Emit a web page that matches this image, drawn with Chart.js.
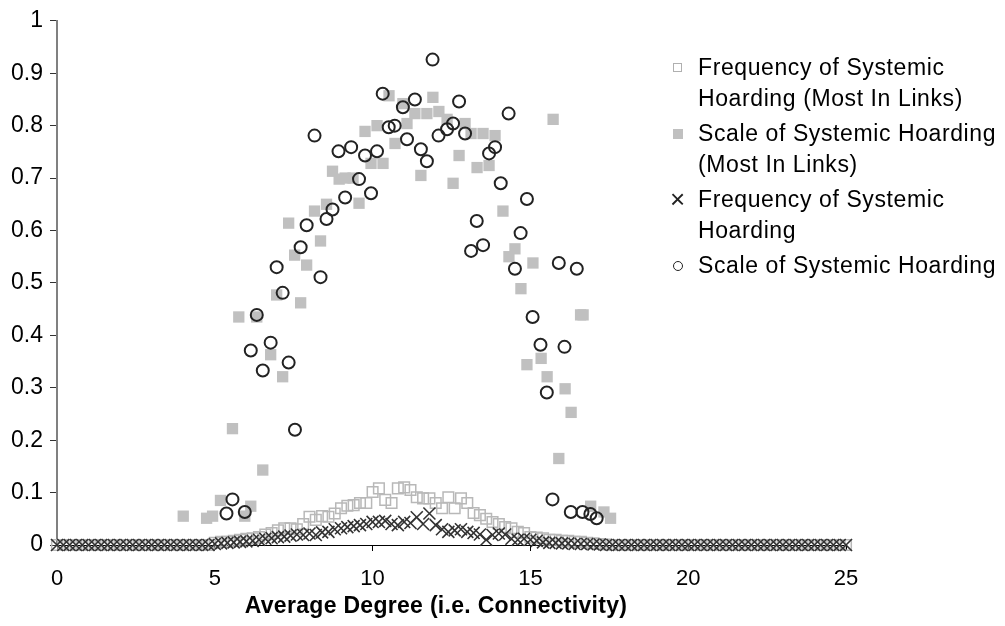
<!DOCTYPE html>
<html>
<head>
<meta charset="utf-8">
<script src="https://cdn.jsdelivr.net/npm/chart.js@4/dist/chart.umd.min.js"></script>
<style>
  html, body { margin: 0; padding: 0; background: #fff; }
  #wrap { position: relative; width: 1005px; height: 626px; font-family: "Liberation Sans", Arial, sans-serif; }
  #chart { position: absolute; left: 0; top: 0; }
  .xtitle { position: absolute; left: 436px; top: 592px; transform: translateX(-50%); font-weight: bold; font-size: 23px; letter-spacing: 0.3px; white-space: nowrap; }
  .legend { position: absolute; left: 668px; top: 52px; font-size: 23px; line-height: 31px; letter-spacing: 0.6px; color: #000; }
  .item { position: relative; padding-left: 30px; margin-bottom: 4px; white-space: nowrap; }
  .mk { position: absolute; left: 5px; top: 11px; box-sizing: border-box; }
  .mk.open { width: 9px; height: 9px; border: 1.5px solid #b0b0b0; }
  .mk.fill { width: 10px; height: 10px; background: #c0c0c0; }
  .mk.circ { width: 10px; height: 10px; border: 1.5px solid #222; border-radius: 50%; }
  .mk.cross { left: 2px; top: 3px; font-size: 26px; line-height: 24px; color: #222; }
</style>
</head>
<body>
<div id="wrap">
  <canvas id="chart" width="1005" height="626"></canvas>
  <div class="xtitle">Average Degree (i.e. Connectivity)</div>
  <div class="legend">
    <div class="item"><span class="mk open"></span>Frequency of Systemic<br>Hoarding (Most In Links)</div>
    <div class="item"><span class="mk fill"></span>Scale of Systemic Hoarding<br>(Most In Links)</div>
    <div class="item"><span class="mk cross">&#215;</span>Frequency of Systemic<br>Hoarding</div>
    <div class="item"><span class="mk circ"></span>Scale of Systemic Hoarding</div>
  </div>
</div>
<script>
// sampled average degrees for the frequency series
const degreeGrid = [
  0, 0.2, 0.4, 0.6, 0.8, 1, 1.2, 1.4, 1.6, 1.8, 2, 2.2, 2.4, 2.6, 2.8, 3, 3.2, 3.4, 3.6, 3.8,
  4, 4.2, 4.4, 4.6, 4.8, 5, 5.2, 5.4, 5.6, 5.8, 6, 6.2, 6.4, 6.6, 6.8, 7, 7.2, 7.4, 7.6, 7.8,
  8, 8.2, 8.4, 8.6, 8.8, 9, 9.2, 9.4, 9.6, 9.8, 10, 10.2, 10.4, 10.6, 10.8, 11, 11.2, 11.4, 11.6, 11.8,
  12, 12.2, 12.4, 12.6, 12.8, 13, 13.2, 13.4, 13.6, 13.8, 14, 14.2, 14.4, 14.6, 14.8, 15, 15.2, 15.4, 15.6, 15.8,
  16, 16.2, 16.4, 16.6, 16.8, 17, 17.2, 17.4, 17.6, 17.8, 18, 18.2, 18.4, 18.6, 18.8, 19, 19.2, 19.4, 19.6, 19.8,
  20, 20.2, 20.4, 20.6, 20.8, 21, 21.2, 21.4, 21.6, 21.8, 22, 22.2, 22.4, 22.6, 22.8, 23, 23.2, 23.4, 23.6, 23.8,
  24, 24.2, 24.4, 24.6, 24.8, 25
];

const freqMostIn = [
  0, 0, 0, 0, 0, 0, 0, 0, 0, 0, 0, 0, 0, 0, 0, 0, 0, 0, 0, 0,
  0, 0, 0, 0, 0, 0.004, 0.006, 0.006, 0.008, 0.010, 0.012, 0.013, 0.015, 0.020, 0.023, 0.028, 0.032, 0.032, 0.030, 0.040,
  0.054, 0.048, 0.055, 0.054, 0.060, 0.070, 0.075, 0.076, 0.080, 0.080, 0.101, 0.108, 0.086, 0.080, 0.108, 0.110, 0.105, 0.091, 0.089, 0.089,
  0.080, 0.070, 0.091, 0.070, 0.089, 0.080, 0.061, 0.057, 0.050, 0.044, 0.040, 0.034, 0.032, 0.025, 0.023, 0.015, 0.014, 0.013, 0.010, 0.010,
  0.008, 0.008, 0.006, 0.006, 0.004, 0.003, 0.002, 0.001, 0, 0, 0, 0, 0, 0, 0, 0, 0, 0, 0, 0,
  0, 0, 0, 0, 0, 0, 0, 0, 0, 0, 0, 0, 0, 0, 0, 0, 0, 0, 0, 0,
  0, 0, 0, 0, 0, 0
];

const freqAll = [
  0, 0, 0, 0, 0, 0, 0, 0, 0, 0, 0, 0, 0, 0, 0, 0, 0, 0, 0, 0,
  0, 0, 0, 0, 0, 0.002, 0.003, 0.004, 0.005, 0.006, 0.007, 0.008, 0.010, 0.012, 0.013, 0.015, 0.016, 0.018, 0.020, 0.019,
  0.022, 0.019, 0.024, 0.025, 0.030, 0.032, 0.034, 0.036, 0.038, 0.040, 0.044, 0.044, 0.046, 0.040, 0.038, 0.044, 0.042, 0.053, 0.040, 0.060,
  0.038, 0.030, 0.025, 0.028, 0.030, 0.025, 0.023, 0.020, 0.010, 0.019, 0.022, 0.020, 0.012, 0.010, 0.012, 0.010, 0.008, 0.005, 0.004, 0.004,
  0.003, 0.003, 0.002, 0.002, 0.002, 0.001, 0.001, 0, 0, 0, 0, 0, 0, 0, 0, 0, 0, 0, 0, 0,
  0, 0, 0, 0, 0, 0, 0, 0, 0, 0, 0, 0, 0, 0, 0, 0, 0, 0, 0, 0,
  0, 0, 0, 0, 0, 0
];

// scale of hoarding, most-in-links (only where hoarding happened)
const scaleMostInX = [
  4.0, 4.74, 4.93, 5.18, 5.56, 5.76, 5.95, 6.14, 6.33, 6.52, 6.77, 6.96, 7.15, 7.34, 7.53, 7.72, 7.91, 8.16, 8.35, 8.54,
  8.73, 8.94, 9.13, 9.38, 9.57, 9.76, 9.95, 10.14, 10.33, 10.52, 10.71, 10.96, 11.09, 11.34, 11.53, 11.72, 11.91, 12.1, 12.36, 12.55,
  12.74, 12.93, 13.12, 13.31, 13.5, 13.69, 13.88, 14.13, 14.32, 14.51, 14.7, 14.89, 15.08, 15.34, 15.53, 15.72, 15.9, 16.1, 16.29, 16.59,
  16.67, 16.91, 17.33, 17.54
];
const scaleMostInY = [
  0.055, 0.051, 0.055, 0.085, 0.222, 0.435, 0.055, 0.074, 0.435, 0.143, 0.363, 0.477, 0.321, 0.614, 0.553, 0.462, 0.534, 0.637, 0.580, 0.650,
  0.713, 0.698, 0.700, 0.700, 0.652, 0.789, 0.728, 0.800, 0.728, 0.857, 0.766, 0.842, 0.804, 0.823, 0.705, 0.823, 0.854, 0.827, 0.812, 0.690,
  0.743, 0.804, 0.785, 0.720, 0.785, 0.724, 0.781, 0.637, 0.550, 0.565, 0.489, 0.344, 0.538, 0.356, 0.321, 0.812, 0.165, 0.298, 0.253, 0.439,
  0.439, 0.074, 0.063, 0.051
];

// scale of hoarding, all banks
const scaleAllX = [
  5.37, 5.56, 5.95, 6.14, 6.33, 6.52, 6.77, 6.96, 7.15, 7.34, 7.54, 7.72, 7.91, 8.16, 8.35, 8.54, 8.73, 8.92, 9.13, 9.32,
  9.57, 9.76, 9.95, 10.14, 10.32, 10.51, 10.7, 10.96, 11.09, 11.34, 11.53, 11.72, 11.9, 12.09, 12.36, 12.55, 12.74, 12.93, 13.12, 13.3,
  13.5, 13.69, 13.88, 14.06, 14.31, 14.51, 14.69, 14.89, 15.07, 15.32, 15.52, 15.7, 15.9, 16.08, 16.28, 16.47, 16.65, 16.9, 17.1
];
const scaleAllY = [
  0.060, 0.087, 0.063, 0.371, 0.439, 0.333, 0.386, 0.530, 0.481, 0.348, 0.220, 0.568, 0.610, 0.781, 0.511, 0.622, 0.640, 0.751, 0.663, 0.759,
  0.698, 0.743, 0.671, 0.751, 0.861, 0.797, 0.800, 0.835, 0.774, 0.850, 0.755, 0.732, 0.926, 0.781, 0.793, 0.804, 0.846, 0.785, 0.561, 0.618,
  0.572, 0.747, 0.759, 0.690, 0.823, 0.527, 0.595, 0.660, 0.435, 0.382, 0.291, 0.087, 0.538, 0.378, 0.063, 0.527, 0.063, 0.059, 0.051
];

const xTicks = [0, 5, 10, 15, 20, 25];

const toPts = (xs, ys) => xs.map((x, i) => ({ x: x, y: ys[i] }));

const ctx = document.getElementById('chart').getContext('2d');
new Chart(ctx, {
  type: 'scatter',
  data: {
    datasets: [
      {
        label: 'Scale of Systemic Hoarding',
        data: toPts(scaleAllX, scaleAllY),
        pointStyle: 'circle', pointRadius: 6, borderWidth: 2,
        borderColor: '#222', backgroundColor: 'rgba(0,0,0,0)',
        order: 0, clip: false
      },
      {
        label: 'Frequency of Systemic Hoarding',
        data: toPts(degreeGrid, freqAll),
        pointStyle: 'crossRot', pointRadius: 8.5, borderWidth: 1.6,
        borderColor: '#333', backgroundColor: '#333',
        order: 1, clip: false
      },
      {
        label: 'Scale of Systemic Hoarding (Most In Links)',
        data: toPts(scaleMostInX, scaleMostInY),
        pointStyle: 'rect', pointRadius: 8, borderWidth: 0,
        borderColor: '#c0c0c0', backgroundColor: '#c0c0c0',
        order: 2, clip: false
      },
      {
        label: 'Frequency of Systemic Hoarding (Most In Links)',
        data: toPts(degreeGrid, freqMostIn),
        pointStyle: 'rect', pointRadius: 7.5, borderWidth: 1.5,
        borderColor: '#b8b8b8', backgroundColor: 'rgba(255,255,255,0)',
        order: 3, clip: false
      }
    ]
  },
  options: {
    responsive: false,
    animation: false,
    layout: { padding: { top: 19, right: 159, left: 0, bottom: 0 } },
    plugins: { legend: { display: false }, tooltip: { enabled: false } },
    elements: { point: { hoverRadius: 6 } },
    scales: {
      x: {
        type: 'linear', min: 0, max: 25,
        afterBuildTicks: s => { s.ticks = xTicks.map(v => ({ value: v })); },
        afterFit: s => { s.height = 81; },
        ticks: { color: '#000', font: { family: 'Liberation Sans', size: 22 }, padding: 15, maxRotation: 0 },
        grid: { display: true, drawOnChartArea: false, drawTicks: true, tickLength: 6, color: '#000' },
        border: { display: true, color: '#000', width: 1 }
      },
      y: {
        type: 'linear', min: 0, max: 1,
        afterFit: s => { s.width = 57; },
        ticks: { stepSize: 0.1, color: '#000', font: { family: 'Liberation Sans', size: 23 }, padding: 7,
          callback: v => String(Math.round(v * 10) / 10) },
        grid: { display: true, drawOnChartArea: false, drawTicks: true, tickLength: 7, color: '#333' },
        border: { display: true, color: '#808080', width: 2 }
      }
    }
  }
});
</script>
</body>
</html>
